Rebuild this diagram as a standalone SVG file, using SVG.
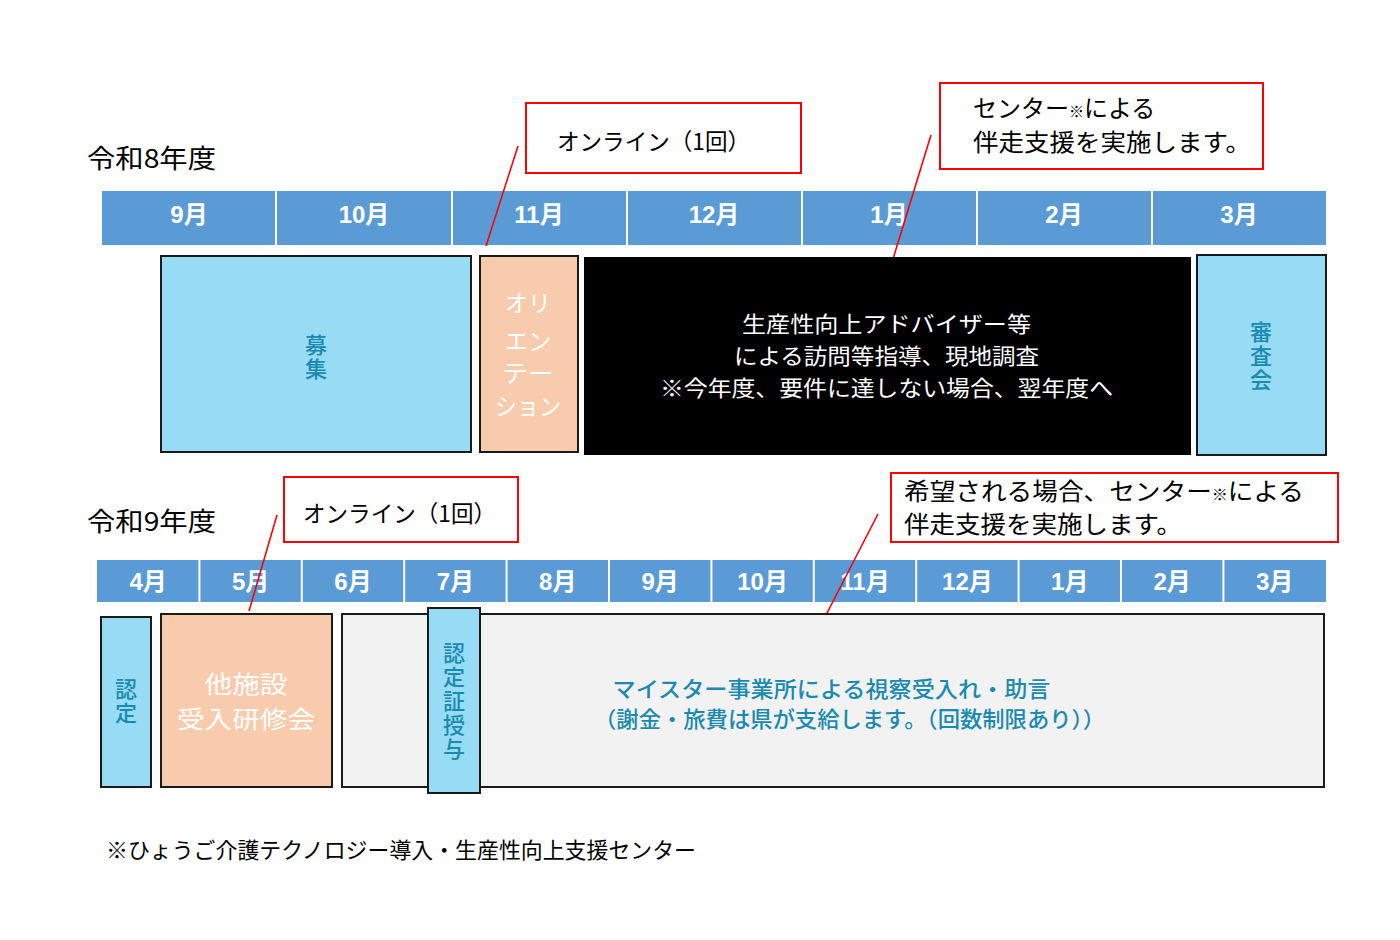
<svg xmlns="http://www.w3.org/2000/svg" width="1400" height="940" viewBox="0 0 1400 940">
<style>
text{font-family:"Noto Sans CJK JP","Noto Sans",sans-serif}
.title{font-size:26px;fill:#000}
.note{fill:#000}
.callout{fill:#fff;stroke:#ff0000;stroke-width:2}
.bar{fill:#5B9BD5}
.div{stroke:#fff;stroke-width:2}
.mon{font-family:"Liberation Sans","Noto Sans CJK JP",sans-serif;font-size:24px;font-weight:bold;fill:#fff;text-anchor:middle}
.cyan{fill:#97DBF5;stroke:#1a1a1a;stroke-width:2}
.peach{fill:#F8CBAD;stroke:#1a1a1a;stroke-width:2}
.grey{fill:#F2F2F2;stroke:#1a1a1a;stroke-width:2}
.teal{fill:#1A8AB0;font-weight:500;text-anchor:middle}
.vt{font-size:22px;writing-mode:vertical-rl;letter-spacing:2px}
.white{fill:#fff;text-anchor:middle}
.lead{stroke:#ff0000;stroke-width:1.6;fill:none}
</style>
<rect width="1400" height="940" fill="#fff"/>

<g id="title-r8"><text class="title" x="87" y="168" textLength="129" lengthAdjust="spacingAndGlyphs">令和8年度</text></g>
<g id="title-r9"><text class="title" x="87" y="531" textLength="129" lengthAdjust="spacingAndGlyphs">令和9年度</text></g>

<g id="bar-r8">
<rect class="bar" x="102" y="191" width="1224" height="54"/>
<line class="div" x1="276" y1="191" x2="276" y2="245"/>
<line class="div" x1="452" y1="191" x2="452" y2="245"/>
<line class="div" x1="627" y1="191" x2="627" y2="245"/>
<line class="div" x1="802" y1="191" x2="802" y2="245"/>
<line class="div" x1="977" y1="191" x2="977" y2="245"/>
<line class="div" x1="1152" y1="191" x2="1152" y2="245"/>
<text class="mon" x="189" y="223">9月</text>
<text class="mon" x="364" y="223">10月</text>
<text class="mon" x="539" y="223">11月</text>
<text class="mon" x="714" y="223">12月</text>
<text class="mon" x="889" y="223">1月</text>
<text class="mon" x="1064" y="223">2月</text>
<text class="mon" x="1239" y="223">3月</text>
</g>

<g id="bar-r9">
<rect class="bar" x="97" y="560" width="1229" height="42"/>
<line class="div" x1="199.4" y1="560" x2="199.4" y2="602"/>
<line class="div" x1="301.8" y1="560" x2="301.8" y2="602"/>
<line class="div" x1="404.2" y1="560" x2="404.2" y2="602"/>
<line class="div" x1="506.6" y1="560" x2="506.6" y2="602"/>
<line class="div" x1="609" y1="560" x2="609" y2="602"/>
<line class="div" x1="711.4" y1="560" x2="711.4" y2="602"/>
<line class="div" x1="813.8" y1="560" x2="813.8" y2="602"/>
<line class="div" x1="916.2" y1="560" x2="916.2" y2="602"/>
<line class="div" x1="1018.6" y1="560" x2="1018.6" y2="602"/>
<line class="div" x1="1121" y1="560" x2="1121" y2="602"/>
<line class="div" x1="1223.4" y1="560" x2="1223.4" y2="602"/>
<text class="mon" x="148.2" y="590">4月</text>
<text class="mon" x="250.6" y="590">5月</text>
<text class="mon" x="353" y="590">6月</text>
<text class="mon" x="455.4" y="590">7月</text>
<text class="mon" x="557.8" y="590">8月</text>
<text class="mon" x="660.2" y="590">9月</text>
<text class="mon" x="762.6" y="590">10月</text>
<text class="mon" x="865" y="590">11月</text>
<text class="mon" x="967.4" y="590">12月</text>
<text class="mon" x="1069.8" y="590">1月</text>
<text class="mon" x="1172.2" y="590">2月</text>
<text class="mon" x="1274.6" y="590">3月</text>
</g>

<g id="connectors">
<line class="lead" x1="518" y1="146" x2="486" y2="246"/>
<line class="lead" x1="931" y1="135" x2="893" y2="259"/>
<line class="lead" x1="277" y1="515" x2="249" y2="611"/>
<line class="lead" x1="878" y1="514" x2="826" y2="615"/>
</g>

<g id="callout-online-r8">
<rect class="callout" x="526" y="103" width="275" height="70"/>
<text class="note" x="557" y="150" font-size="23" textLength="193" lengthAdjust="spacingAndGlyphs">オンライン（1回）</text>
</g>
<g id="callout-center-r8">
<rect class="callout" x="940" y="83" width="323" height="86"/>
<text class="note" x="973" y="117" font-size="24">センター<tspan font-size="15">※</tspan>による</text>
<text class="note" x="973" y="151" font-size="24" textLength="278" lengthAdjust="spacingAndGlyphs">伴走支援を実施します。</text>
</g>
<g id="callout-online-r9">
<rect class="callout" x="284" y="477" width="234" height="65"/>
<text class="note" x="303" y="522" font-size="23" textLength="193" lengthAdjust="spacingAndGlyphs">オンライン（1回）</text>
</g>
<g id="callout-center-r9">
<rect class="callout" x="891" y="473" width="447" height="69"/>
<text class="note" x="904" y="500" font-size="24" textLength="400" lengthAdjust="spacingAndGlyphs">希望される場合、センター<tspan font-size="15">※</tspan>による</text>
<text class="note" x="904" y="533" font-size="24" textLength="278" lengthAdjust="spacingAndGlyphs">伴走支援を実施します。</text>
</g>

<g id="node-boshu">
<rect class="cyan" x="161" y="256" width="310" height="196"/>
<text class="teal vt" x="316" y="358">募集</text>
</g>
<g id="node-orientation">
<rect class="peach" x="480" y="256" width="98" height="196"/>
<text class="white" x="528" y="312" font-size="24" textLength="46" lengthAdjust="spacingAndGlyphs">オリ</text>
<text class="white" x="528" y="350" font-size="24" textLength="46" lengthAdjust="spacingAndGlyphs">エン</text>
<text class="white" x="528" y="382" font-size="24" textLength="52" lengthAdjust="spacingAndGlyphs">テー</text>
<text class="white" x="528" y="415" font-size="24" textLength="66" lengthAdjust="spacingAndGlyphs">ション</text>
</g>
<g id="node-visit">
<rect x="584" y="257" width="607" height="198" fill="#000"/>
<text class="white" x="886.5" y="332.4" font-size="22" textLength="289" lengthAdjust="spacingAndGlyphs">生産性向上アドバイザー等</text>
<text class="white" x="886.5" y="364.4" font-size="22" textLength="305" lengthAdjust="spacingAndGlyphs">による訪問等指導、現地調査</text>
<text class="white" x="886.5" y="396.4" font-size="22" textLength="453" lengthAdjust="spacingAndGlyphs">※今年度、要件に達しない場合、翌年度へ</text>
</g>
<g id="node-shinsakai">
<rect class="cyan" x="1197" y="255" width="129" height="200"/>
<text class="teal vt" x="1261" y="357">審査会</text>
</g>

<g id="node-nintei">
<rect class="cyan" x="101" y="617" width="50" height="170"/>
<text class="teal vt" x="126" y="702">認定</text>
</g>
<g id="node-kenshu">
<rect class="peach" x="161" y="614" width="171" height="173"/>
<text class="white" x="246" y="693" font-size="24" textLength="83" lengthAdjust="spacingAndGlyphs">他施設</text>
<text class="white" x="246" y="728" font-size="24" textLength="138" lengthAdjust="spacingAndGlyphs">受入研修会</text>
</g>
<g id="node-meister">
<rect class="grey" x="342" y="614" width="982" height="173"/>
<text class="teal" x="612.5" y="697" font-size="22" style="text-anchor:start" textLength="438" lengthAdjust="spacingAndGlyphs">マイスター事業所による視察受入れ・助言</text>
<text class="teal" x="594" y="727" font-size="22" style="text-anchor:start" textLength="511" lengthAdjust="spacingAndGlyphs">（謝金・旅費は県が支給します。（回数制限あり））</text>
</g>
<g id="node-certificate">
<rect class="cyan" x="428" y="608" width="52" height="185" stroke-width="2.5"/>
<text class="teal vt" x="454" y="702">認定証授与</text>
</g>

<g id="footnote">
<text class="note" x="106" y="858" font-size="22" textLength="590" lengthAdjust="spacingAndGlyphs">※ひょうご介護テクノロジー導入・生産性向上支援センター</text>
</g>
</svg>
